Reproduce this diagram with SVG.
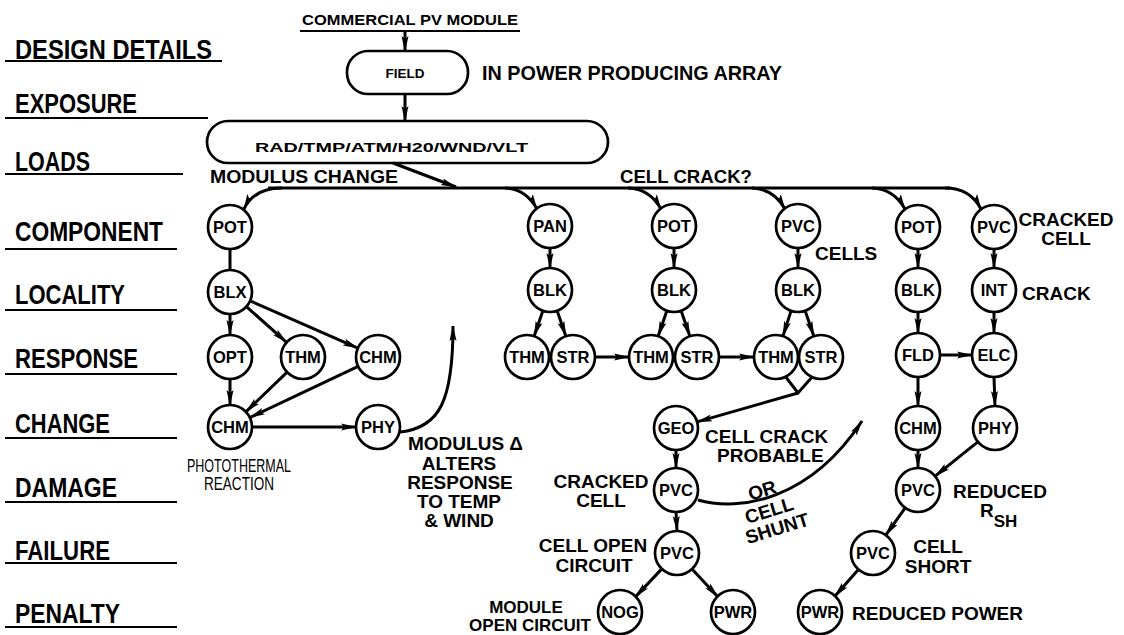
<svg xmlns="http://www.w3.org/2000/svg" width="1124" height="635" viewBox="0 0 1124 635">
<defs>
<marker id="ah" viewBox="0 0 16 8" markerWidth="16" markerHeight="8" markerUnits="userSpaceOnUse" refX="15" refY="4" orient="auto">
<path d="M0,0.5 L16,4 L0,7.5 L3,4 Z" fill="#000"/>
</marker>
<style>
.n circle{fill:#fff;stroke:#000;stroke-width:2.7}
.n text{font-family:"Liberation Sans",Arial,sans-serif;font-weight:bold;font-size:16.5px;text-anchor:middle;fill:#000}
.c path,.c line,.c polyline{stroke:#000;stroke-width:3;fill:none}
.a{marker-end:url(#ah)}
.t{font-family:"Liberation Sans",Arial,sans-serif;font-weight:bold;font-size:19px;fill:#000}
.r{font-weight:normal;font-size:18px}
.m{text-anchor:middle}
.lab{font-family:"Liberation Sans",Arial,sans-serif;font-weight:bold;font-size:27px;fill:#000}
.ul{stroke:#000;stroke-width:2}
.box{fill:#fff;stroke:#000;stroke-width:2.7}
</style>
</defs>
<rect width="1124" height="635" fill="#fff"/>

<g id="stage-labels">
<text class="lab" x="15" y="59" textLength="197" lengthAdjust="spacingAndGlyphs">DESIGN DETAILS</text>
<line class="ul" x1="5" y1="61" x2="222" y2="61"/>
<text class="lab" x="15" y="113" textLength="122" lengthAdjust="spacingAndGlyphs">EXPOSURE</text>
<line class="ul" x1="5" y1="118" x2="208" y2="118"/>
<text class="lab" x="15" y="171" textLength="75" lengthAdjust="spacingAndGlyphs">LOADS</text>
<line class="ul" x1="5" y1="174" x2="183" y2="174"/>
<text class="lab" x="15" y="241" textLength="148" lengthAdjust="spacingAndGlyphs">COMPONENT</text>
<line class="ul" x1="5" y1="249" x2="177" y2="249"/>
<text class="lab" x="15" y="304" textLength="110" lengthAdjust="spacingAndGlyphs">LOCALITY</text>
<line class="ul" x1="5" y1="310" x2="177" y2="310"/>
<text class="lab" x="15" y="368" textLength="123" lengthAdjust="spacingAndGlyphs">RESPONSE</text>
<line class="ul" x1="5" y1="374" x2="177" y2="374"/>
<text class="lab" x="15" y="433" textLength="95" lengthAdjust="spacingAndGlyphs">CHANGE</text>
<line class="ul" x1="5" y1="438" x2="177" y2="438"/>
<text class="lab" x="15" y="497" textLength="102" lengthAdjust="spacingAndGlyphs">DAMAGE</text>
<line class="ul" x1="5" y1="502" x2="177" y2="502"/>
<text class="lab" x="15" y="560" textLength="95" lengthAdjust="spacingAndGlyphs">FAILURE</text>
<line class="ul" x1="5" y1="563" x2="177" y2="563"/>
<text class="lab" x="15" y="623" textLength="105" lengthAdjust="spacingAndGlyphs">PENALTY</text>
<line class="ul" x1="5" y1="627" x2="177" y2="627"/>
</g>

<g id="top">
<text class="t" x="302" y="25" style="font-size:15px" textLength="216" lengthAdjust="spacingAndGlyphs">COMMERCIAL PV MODULE</text>
<line class="ul" x1="300" y1="31" x2="520" y2="31"/>
</g>
<g id="field">
<rect class="box" x="347" y="51" width="121" height="43" rx="21"/>
<text class="t m" x="405" y="78" style="font-size:13.5px">FIELD</text>
</g>
<text class="t" x="482" y="80" style="font-size:20px" textLength="300" lengthAdjust="spacingAndGlyphs">IN POWER PRODUCING ARRAY</text>
<g id="loads">
<rect class="box" x="207" y="121" width="401" height="42" rx="21"/>
<text class="t" x="255" y="152" style="font-size:13px" textLength="273" lengthAdjust="spacingAndGlyphs">RAD/TMP/ATM/H20/WND/VLT</text>
</g>

<g class="c" id="connectors">
<line class="a" x1="405" y1="31" x2="405" y2="51"/>
<line class="a" x1="405" y1="94" x2="405" y2="121"/>
<path class="a" d="M393 163 L456 187"/>
<path d="M268 188 L950 188"/>
<path class="a" d="M282 188 Q254 188 244 209"/>
<path class="a" d="M505 188 Q526 189 537 209"/>
<path class="a" d="M628 188 Q650 189 661 209"/>
<path class="a" d="M752 188 Q774 189 785 209"/>
<path class="a" d="M872 188 Q894 189 905 209"/>
<path class="a" d="M945 188 Q970 188 981 209"/>

<line x1="230" y1="249" x2="230" y2="270"/>
<line class="a" x1="230" y1="314" x2="230" y2="335"/>
<line class="a" x1="246.4" y1="306.6" x2="286.6" y2="342.4"/>
<line class="a" x1="250.1" y1="300.8" x2="357.9" y2="348.2"/>
<line class="a" x1="230" y1="379" x2="230" y2="405"/>
<line class="a" x1="287.1" y1="372.2" x2="245.9" y2="411.8"/>
<line class="a" x1="358.1" y1="366.4" x2="249.9" y2="417.6"/>
<line class="a" x1="252" y1="427" x2="356" y2="427"/>
<path class="a" d="M400 432 C440 428 453 400 453 326"/>

<line class="a" x1="550" y1="248" x2="550" y2="268"/>
<line class="a" x1="542.9" y1="310.8" x2="534.1" y2="336.2"/>
<line class="a" x1="557.1" y1="310.8" x2="565.9" y2="336.2"/>
<line class="a" x1="595" y1="357" x2="629" y2="357"/>
<line class="a" x1="674" y1="248" x2="674" y2="268"/>
<line class="a" x1="666.9" y1="310.8" x2="658.1" y2="336.2"/>
<line class="a" x1="681.1" y1="310.8" x2="689.9" y2="336.2"/>
<line class="a" x1="719" y1="357" x2="754" y2="357"/>
<line class="a" x1="798" y1="248" x2="798" y2="268"/>
<line class="a" x1="791.1" y1="310.9" x2="782.9" y2="336.1"/>
<line class="a" x1="805.1" y1="310.8" x2="813.9" y2="336.2"/>
<polyline points="785,376 798,393 813,376"/>
<line class="a" x1="798" y1="393" x2="697.1" y2="421.9"/>
<line class="a" x1="676" y1="450" x2="676" y2="468"/>
<line class="a" x1="676" y1="512" x2="677" y2="531"/>
<line class="a" x1="661.8" y1="568.9" x2="635.2" y2="597.1"/>
<line class="a" x1="692" y1="569.1" x2="718" y2="596.9"/>
<path class="a" d="M698 500 C740 512 810 500 862 421"/>

<line class="a" x1="918" y1="249" x2="918" y2="268"/>
<line class="a" x1="918" y1="312" x2="918" y2="333"/>
<line class="a" x1="918" y1="377" x2="918" y2="406"/>
<line class="a" x1="918" y1="450" x2="918" y2="468"/>
<line class="a" x1="905.2" y1="507.9" x2="885.8" y2="535.1"/>
<line class="a" x1="858.4" y1="569.5" x2="834.6" y2="596.5"/>
<line class="a" x1="940" y1="355" x2="972" y2="355"/>
<line class="a" x1="994" y1="249" x2="994" y2="268"/>
<line class="a" x1="994" y1="312" x2="994" y2="333"/>
<line class="a" x1="994" y1="377" x2="995" y2="406"/>
<line class="a" x1="977.9" y1="441.8" x2="935.1" y2="476.2"/>
</g>

<g class="n" id="pot1"><circle cx="230" cy="227" r="22"/><text x="230" y="233">POT</text></g>
<g class="n" id="blx"><circle cx="230" cy="292" r="22"/><text x="230" y="298">BLX</text></g>
<g class="n" id="opt"><circle cx="230" cy="357" r="22"/><text x="230" y="363">OPT</text></g>
<g class="n" id="thm1"><circle cx="303" cy="357" r="22"/><text x="303" y="363">THM</text></g>
<g class="n" id="chm1"><circle cx="378" cy="357" r="22"/><text x="378" y="363">CHM</text></g>
<g class="n" id="chm2"><circle cx="230" cy="427" r="22"/><text x="230" y="433">CHM</text></g>
<g class="n" id="phy1"><circle cx="378" cy="427" r="22"/><text x="378" y="433">PHY</text></g>

<g class="n" id="pan"><circle cx="550" cy="226" r="22"/><text x="550" y="232">PAN</text></g>
<g class="n" id="blk2"><circle cx="550" cy="290" r="22"/><text x="550" y="296">BLK</text></g>
<g class="n" id="thm2"><circle cx="527" cy="357" r="22"/><text x="527" y="363">THM</text></g>
<g class="n" id="str2"><circle cx="573" cy="357" r="22"/><text x="573" y="363">STR</text></g>

<g class="n" id="pot2"><circle cx="674" cy="226" r="22"/><text x="674" y="232">POT</text></g>
<g class="n" id="blk3"><circle cx="674" cy="290" r="22"/><text x="674" y="296">BLK</text></g>
<g class="n" id="thm3"><circle cx="651" cy="357" r="22"/><text x="651" y="363">THM</text></g>
<g class="n" id="str3"><circle cx="697" cy="357" r="22"/><text x="697" y="363">STR</text></g>

<g class="n" id="pvc1"><circle cx="798" cy="226" r="22"/><text x="798" y="232">PVC</text></g>
<g class="n" id="blk4"><circle cx="798" cy="290" r="22"/><text x="798" y="296">BLK</text></g>
<g class="n" id="thm4"><circle cx="776" cy="357" r="22"/><text x="776" y="363">THM</text></g>
<g class="n" id="str4"><circle cx="821" cy="357" r="22"/><text x="821" y="363">STR</text></g>

<g class="n" id="geo"><circle cx="676" cy="428" r="22"/><text x="676" y="434">GEO</text></g>
<g class="n" id="pvc2"><circle cx="676" cy="490" r="22"/><text x="676" y="496">PVC</text></g>
<g class="n" id="pvc3"><circle cx="677" cy="553" r="22"/><text x="677" y="559">PVC</text></g>
<g class="n" id="nog"><circle cx="620" cy="612" r="22"/><text x="620" y="618">NOG</text></g>
<g class="n" id="pwr1"><circle cx="733" cy="612" r="22"/><text x="733" y="618">PWR</text></g>

<g class="n" id="pot3"><circle cx="918" cy="227" r="22"/><text x="918" y="233">POT</text></g>
<g class="n" id="blk5"><circle cx="918" cy="290" r="22"/><text x="918" y="296">BLK</text></g>
<g class="n" id="fld"><circle cx="918" cy="355" r="22"/><text x="918" y="361">FLD</text></g>
<g class="n" id="chm3"><circle cx="918" cy="428" r="22"/><text x="918" y="434">CHM</text></g>
<g class="n" id="pvc4"><circle cx="918" cy="490" r="22"/><text x="918" y="496">PVC</text></g>
<g class="n" id="pvc5"><circle cx="873" cy="553" r="22"/><text x="873" y="559">PVC</text></g>
<g class="n" id="pwr2"><circle cx="820" cy="612" r="22"/><text x="820" y="618">PWR</text></g>

<g class="n" id="pvc6"><circle cx="994" cy="227" r="22"/><text x="994" y="233">PVC</text></g>
<g class="n" id="int"><circle cx="994" cy="290" r="22"/><text x="994" y="296">INT</text></g>
<g class="n" id="elc"><circle cx="994" cy="355" r="22"/><text x="994" y="361">ELC</text></g>
<g class="n" id="phy2"><circle cx="995" cy="428" r="22"/><text x="995" y="434">PHY</text></g>

<g id="annotations">
<text class="t" x="210" y="183" textLength="188" lengthAdjust="spacingAndGlyphs">MODULUS CHANGE</text>
<text class="t" x="620" y="183" textLength="132" lengthAdjust="spacingAndGlyphs">CELL CRACK?</text>
<text class="t" x="815" y="260">CELLS</text>
<text class="t m" x="1066" y="226">CRACKED</text>
<text class="t m" x="1066" y="245">CELL</text>
<text class="t" x="1022" y="300">CRACK</text>
<text class="t r m" x="239" y="472" textLength="104" lengthAdjust="spacingAndGlyphs">PHOTOTHERMAL</text>
<text class="t r m" x="239" y="490" textLength="70" lengthAdjust="spacingAndGlyphs">REACTION</text>
<text class="t" x="408" y="450">MODULUS Δ</text>
<text class="t m" x="459" y="470">ALTERS</text>
<text class="t m" x="460" y="489">RESPONSE</text>
<text class="t m" x="459" y="508">TO TEMP</text>
<text class="t m" x="459" y="527">&amp; WIND</text>
<text class="t" x="705" y="443">CELL CRACK</text>
<text class="t" x="717" y="462">PROBABLE</text>
<text class="t m" x="601" y="488">CRACKED</text>
<text class="t m" x="601" y="507">CELL</text>
<text class="t m" x="593" y="552">CELL OPEN</text>
<text class="t m" x="594" y="572">CIRCUIT</text>
<text class="t m" x="526" y="613" style="font-size:17px">MODULE</text>
<text class="t m" x="530" y="631" style="font-size:17px">OPEN CIRCUIT</text>
<text class="t m" x="762" y="497" transform="rotate(-17 762 490)">OR</text>
<text class="t m" x="769" y="517" transform="rotate(-17 769 510)">CELL</text>
<text class="t m" x="777" y="535" transform="rotate(-17 777 528)">SHUNT</text>
<text class="t" x="953" y="498">REDUCED</text>
<text class="t" x="980" y="517">R<tspan dy="10" style="font-size:17px">SH</tspan></text>
<text class="t m" x="938" y="553">CELL</text>
<text class="t m" x="938" y="573">SHORT</text>
<text class="t" x="852" y="620">REDUCED POWER</text>
</g>
</svg>
